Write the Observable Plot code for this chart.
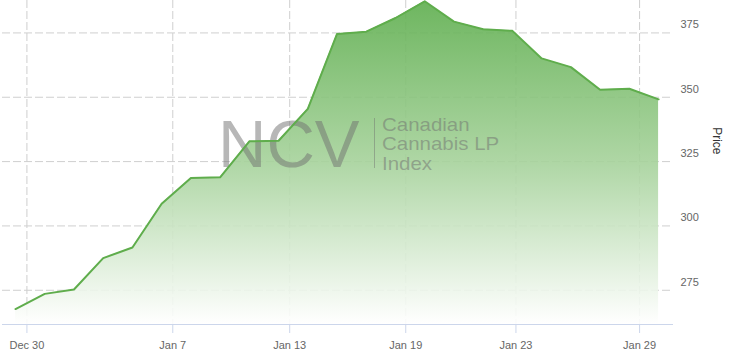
<!DOCTYPE html>
<html>
<head>
<meta charset="utf-8">
<script src="https://cdn.jsdelivr.net/npm/d3@7"></script>
<script src="https://cdn.jsdelivr.net/npm/@observablehq/plot@0.6"></script>
<style>
  html, body { margin: 0; padding: 0; background: #ffffff; }
  #chart { width: 729px; height: 354px; }
</style>
</head>
<body>
<div id="chart"></div>
<script>
// Trading days (ordinal positions on the x axis)
const dates = ["2019-12-30","2019-12-31","2020-01-02","2020-01-03","2020-01-06","2020-01-07",
  "2020-01-08","2020-01-09","2020-01-10","2020-01-13","2020-01-14","2020-01-15","2020-01-16",
  "2020-01-17","2020-01-20","2020-01-21","2020-01-22","2020-01-23","2020-01-24","2020-01-27",
  "2020-01-28","2020-01-29","2020-01-30"];
// Index price
const prices = [267.7, 273.6, 275.3, 287.5, 291.6, 308.6, 318.6, 318.9, 332.9, 333.1, 345.5, 374.6,
  375.5, 380.8, 387.3, 379.4, 376.4, 375.8, 365.1, 361.7, 352.9, 353.3, 349.2];
// X tick labels and their ordinal (trading-day) positions
const tickLabels = ["Dec 30", "Jan 7", "Jan 13", "Jan 19", "Jan 23", "Jan 29"];
const tickDays = [0.39, 5.38, 9.38, 13.35, 17.12, 21.35];
// Y ticks
const priceTicks = [275, 300, 325, 350, 375];
const yAxisTitle = "Price";
const watermarkBig = "NCV";
const watermarkSmall = ["Canadian", "Cannabis LP", "Index"];

const data = prices.map((v, i) => ({i, date: dates[i], price: v}));
const xDomain = [-0.445, 22.51];
const yDomain = [261.7, 387.6];
const FONT = "'Liberation Sans', Arial, Helvetica, sans-serif";
const ns = "http://www.w3.org/2000/svg";

function gradientDefs() {
  const defs = document.createElementNS(ns, "defs");
  const lg = document.createElementNS(ns, "linearGradient");
  lg.setAttribute("id", "ncvFill");
  lg.setAttribute("x1", "0"); lg.setAttribute("y1", "0");
  lg.setAttribute("x2", "0"); lg.setAttribute("y2", "1");
  [[0, "#5eae4e"], [0.5, "#a6d29b"], [1, "#ffffff"]].forEach(([o, c]) => {
    const s = document.createElementNS(ns, "stop");
    s.setAttribute("offset", o);
    s.setAttribute("stop-color", c);
    lg.appendChild(s);
  });
  defs.appendChild(lg);
  return defs;
}

function watermark() {
  const g = document.createElementNS(ns, "g");
  g.setAttribute("fill", "#6f6f6f");
  g.setAttribute("fill-opacity", "0.5");
  g.setAttribute("font-family", FONT);
  g.setAttribute("text-anchor", "start");
  const big = document.createElementNS(ns, "text");
  big.setAttribute("x", 218); big.setAttribute("y", 167);
  big.setAttribute("font-size", 67);
  big.textContent = watermarkBig;
  g.appendChild(big);
  const sep = document.createElementNS(ns, "line");
  sep.setAttribute("x1", 374.5); sep.setAttribute("x2", 374.5);
  sep.setAttribute("y1", 118); sep.setAttribute("y2", 168);
  sep.setAttribute("stroke", "#6f6f6f");
  sep.setAttribute("stroke-opacity", "0.45");
  g.appendChild(sep);
  const small = document.createElementNS(ns, "g");
  small.setAttribute("transform", "translate(382,0) scale(1.17,1)");
  watermarkSmall.forEach((t, k) => {
    const el = document.createElementNS(ns, "text");
    el.setAttribute("x", 0);
    el.setAttribute("y", 131 + k * 19.5);
    el.setAttribute("font-size", 17.5);
    el.textContent = t;
    small.appendChild(el);
  });
  g.appendChild(small);
  return g;
}

const chart = Plot.plot({
  width: 729,
  height: 354,
  marginLeft: 2,
  marginRight: 56,
  marginTop: 0,
  marginBottom: 30,
  style: {fontFamily: FONT, fontSize: "11px", background: "#ffffff", overflow: "visible"},
  x: {type: "linear", domain: xDomain},
  y: {domain: yDomain},
  marks: [
    gradientDefs,
    Plot.gridX(tickDays, {stroke: "#cfcfcf", strokeOpacity: 1, strokeDasharray: "8,3"}),
    Plot.gridY(priceTicks, {stroke: "#cfcfcf", strokeOpacity: 1, strokeDasharray: "8,3"}),
    Plot.areaY(data, {x: "i", y1: () => yDomain[0], y2: "price", fill: "url(#ncvFill)", fillOpacity: 0.9}),
    watermark,
    Plot.line(data, {x: "i", y: "price", stroke: "#5fad4c", strokeWidth: 2}),
    Plot.ruleY([yDomain[0]], {stroke: "#ccd6eb", strokeWidth: 1}),
    Plot.axisX(tickDays, {
      anchor: "bottom", tickSize: 9, tickPadding: 8, stroke: "#ccd6eb",
      tickFormat: (d, i) => tickLabels[i], fill: "#666666", fontSize: 11, label: null
    }),
    Plot.axisY(priceTicks, {
      anchor: "right", tickSize: 0, tickPadding: 7, dy: -8,
      fill: "#666666", fontSize: 11, label: null
    }),
    Plot.text([yAxisTitle], {frameAnchor: "right", dx: 43, dy: -8, rotate: 90, fontSize: 12, fill: "#333333"})
  ]
});
document.getElementById("chart").appendChild(chart);
</script>
</body>
</html>
